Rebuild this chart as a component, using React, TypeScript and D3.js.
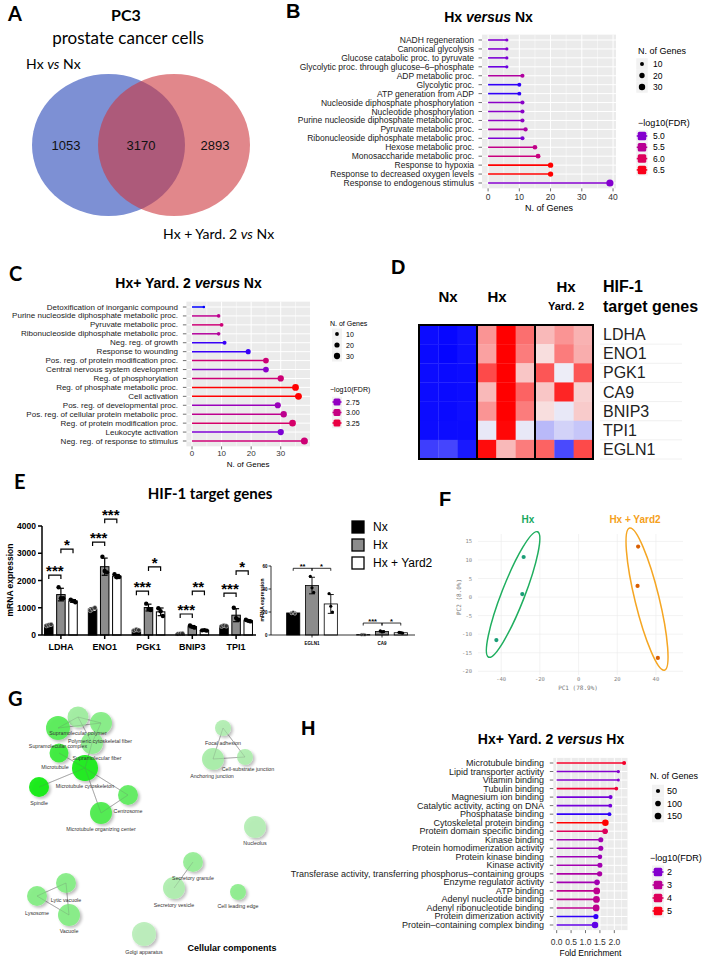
import React from "react";
import * as d3 from "d3";

const SANS = "'Liberation Sans', Arial, Helvetica, sans-serif";
const CAL = "Lato, 'Open Sans', sans-serif";
const MONO = "'DejaVu Sans Mono', monospace";

// ---------------- Panel A (Venn) ----------------
const vennTitle = "PC3";
const vennSubtitle = "prostate cancer cells";
const vennSetNames = ["Hx vs Nx", "Hx + Yard. 2 vs Nx"];
const vennRegionCounts = [1053, 3170, 2893];

// ---------------- Panel B ----------------
const bTerms = [
  "NADH regeneration", "Canonical glycolysis", "Glucose catabolic proc. to pyruvate",
  "Glycolytic proc. through glucose–6–phosphate", "ADP metabolic proc.", "Glycolytic proc.",
  "ATP generation from ADP", "Nucleoside diphosphate phosphorylation", "Nucleotide phosphorylation",
  "Purine nucleoside diphosphate metabolic proc.", "Pyruvate metabolic proc.",
  "Ribonucleoside diphosphate metabolic proc.", "Hexose metabolic proc.", "Monosaccharide metabolic proc.",
  "Response to hypoxia", "Response to decreased oxygen levels", "Response to endogenous stimulus",
];
const bGenes = [6, 6, 6, 6, 11, 10, 10, 11, 11, 11, 12, 11, 15, 16, 20, 20, 39];
const bFdr = [5.0, 5.0, 4.95, 4.85, 5.4, 4.65, 4.65, 5.05, 5.05, 5.1, 5.35, 4.95, 5.6, 5.7, 6.6, 6.6, 5.0];
const bSizeBreaks = [10, 20, 30];
const bColorBreaks = [5.0, 5.5, 6.0, 6.5];
const bTicks = [0, 10, 20, 30, 40];

// ---------------- Panel C ----------------
const cTerms = [
  "Detoxification of inorganic compound", "Purine nucleoside diphosphate metabolic proc.",
  "Pyruvate metabolic proc.", "Ribonucleoside diphosphate metabolic proc.", "Neg. reg. of growth",
  "Response to wounding", "Pos. reg. of protein modification proc.", "Central nervous system development",
  "Reg. of phosphorylation", "Reg. of phosphate metabolic proc.", "Cell activation",
  "Pos. reg. of developmental proc.", "Pos. reg. of cellular protein metabolic proc.",
  "Reg. of protein modification proc.", "Leukocyte activation", "Neg. reg. of response to stimulus",
];
const cGenes = [4, 9, 10, 9, 11, 19, 25, 25, 30, 35, 36, 29, 31, 34, 30, 38];
const cFdr = [2.52, 2.95, 3.05, 2.9, 2.55, 2.55, 3.05, 2.72, 3.05, 3.43, 3.43, 2.78, 2.95, 3.1, 2.68, 3.05];
const cSizeBreaks = [10, 20, 30];
const cColorBreaks = [2.75, 3.0, 3.25];
const cTicks = [0, 10, 20, 30];

// ---------------- Panel D ----------------
const dGenes = ["LDHA", "ENO1", "PGK1", "CA9", "BNIP3", "TPI1", "EGLN1"];
const dZ = [
  [-0.95, -0.97, -0.93, 0.4, 1.0, 0.55, 0.25, 0.4, 0.28],
  [-0.96, -0.98, -0.94, 0.35, 1.0, 0.5, 0.1, 0.5, 0.3],
  [-0.95, -0.96, -0.95, 0.7, 1.0, 0.2, 0.65, -0.04, 0.65],
  [-0.95, -0.96, -0.95, 0.25, 1.0, 0.6, 0.2, 0.85, 0.15],
  [-0.95, -0.96, -0.94, 0.4, 1.0, 0.5, 0.1, -0.06, 0.18],
  [-0.95, -0.95, -0.95, -0.06, 0.97, -0.06, -0.25, -0.15, -0.2],
  [-0.75, -0.72, -0.9, 0.95, 0.25, 0.5, 0.6, -0.7, 0.7],
];

// ---------------- Panel E ----------------
const eGenes = ["LDHA", "ENO1", "PGK1", "BNIP3", "TPI1"];
const eGroups = ["Nx", "Hx", "Hx + Yard2"];
const eNx = [[340, 370, 390], [900, 960, 1000], [170, 200, 180], [40, 50, 55], [320, 350, 330]];
const eHx = [[1750, 1350, 1350], [2870, 2350, 2300], [1150, 950, 920], [350, 300, 270], [1000, 620, 560]];
const eYard = [[1300, 1250, 1200], [2230, 2120, 2130], [980, 870, 700], [170, 180, 160], [560, 520, 500]];
const eTicks = [0, 1000, 2000, 3000, 4000];
const eSigGene = ["LDHA", "LDHA", "ENO1", "ENO1", "PGK1", "PGK1", "BNIP3", "BNIP3", "TPI1", "TPI1"];
const eSigFrom = [0, 1, 0, 1, 0, 1, 0, 1, 0, 1];
const eSigLevel = [2200, 3150, 3410, 4250, 1610, 2500, 770, 1610, 1540, 2350];
const eSigLabel = ["***", "*", "***", "***", "***", "*", "***", "**", "***", "*"];

const e2Genes = ["EGLN1", "CA9"];
const e2Nx = [[19, 20, 18.5], [0.3, 0.4, 0.2]];
const e2Hx = [[51, 41, 37], [3.6, 2.7, 3.0]];
const e2Yard = [[36, 25, 20], [2.3, 2.0, 1.6]];
const e2Ticks = [0, 20, 40, 60];
const e2SigGene = ["EGLN1", "EGLN1", "CA9", "CA9"];
const e2SigFrom = [0, 1, 0, 1];
const e2SigLevel = [58, 58, 10.4, 10.4];
const e2SigLabel = ["**", "*", "***", "*"];

// ---------------- Panel F ----------------
const fGroups = ["Hx", "Hx + Yard2"];
const fHxPC1 = [-28.4, -29.1, -42.5];
const fHxPC2 = [10.8, 0.8, -11.6];
const fYdPC1 = [30.8, 30.5, 41.0];
const fYdPC2 = [13.6, 3.0, -16.4];
const fEllHx = [-33.85, 0.7, -21.2, 17.6, 0.17];
const fEllYd = [35.4, -0.55, 26.4, 18.6, 0.165];
const fTicksX = [-40, -20, 0, 20, 40];
const fTicksY = [-20, -15, -10, -5, 0, 5, 10, 15];

// ---------------- Panel G (network layout units) ----------------
const gNames = [
  "Supramolecular polymer", "Supramolecular complex", "Polymeric cytoskeletal fiber", "Supramolecular fiber",
  "Microtubule", "Microtubule cytoskeleton", "Spindle", "Centrosome", "Microtubule organizing center",
  "Focal adhesion", "Anchoring junction", "Cell-substrate junction", "Nucleolus", "Secretory granule",
  "Secretory vesicle", "Cell leading edge", "Lytic vacuole", "Lysosome", "Vacuole", "Golgi apparatus",
];
const gX = [78, 58, 101, 92, 59, 85, 39, 128, 101, 223, 213, 245, 255, 193, 174, 238, 66, 37, 69, 144];
const gY = [717, 728, 723, 743, 753, 768, 787, 795, 813, 728, 759, 757, 827, 862, 888, 892, 883, 896, 915, 934];
const gSize = [10.5, 12, 11, 11, 9.5, 13, 10, 10, 11, 8, 11, 8, 11, 10, 11, 8, 10, 10, 11, 12];
const gShade = [0.2, 0.6, 0.35, 0.3, 0.75, 0.95, 1.0, 0.55, 0.65, 0.1, 0.15, 0.12, 0.08, 0.25, 0.12, 0.3, 0.35, 0.35, 0.35, 0.05];
const gLabelX = [78, 58, 100, 97, 55, 85, 39, 128, 101, 223, 212, 248, 255, 193, 174, 238, 66, 37, 69, 144];
const gLabelY = [733, 746, 741, 758, 767, 786, 803, 811, 829, 743, 776, 769, 843, 878, 905, 906, 900, 913, 931, 952];
const gEdges = [[0, 1], [0, 2], [1, 2], [0, 3], [2, 3], [3, 5], [4, 5], [5, 6], [5, 7], [5, 8], [7, 8], [9, 10], [9, 11], [10, 11], [13, 14], [16, 17], [16, 18], [17, 18]];

// ---------------- Panel H ----------------
const hTerms = [
  "Microtubule binding", "Lipid transporter activity", "Vitamin binding", "Tubulin binding",
  "Magnesium ion binding", "Catalytic activity, acting on DNA", "Phosphatase binding",
  "Cytoskeletal protein binding", "Protein domain specific binding", "Kinase binding",
  "Protein homodimerization activity", "Protein kinase binding", "Kinase activity",
  "Transferase activity, transferring phosphorus–containing groups", "Enzyme regulator activity",
  "ATP binding", "Adenyl nucleotide binding", "Adenyl ribonucleotide binding",
  "Protein dimerization activity", "Protein–containing complex binding",
];
const hFold = [2.34, 2.14, 2.14, 2.07, 1.87, 1.86, 1.83, 1.69, 1.68, 1.53, 1.53, 1.5, 1.5, 1.49, 1.4, 1.39, 1.38, 1.37, 1.36, 1.33];
const hGenes = [45, 25, 20, 35, 45, 40, 40, 140, 100, 80, 80, 65, 75, 85, 100, 150, 155, 150, 80, 140];
const hFdr = [4.8, 2.0, 2.0, 4.6, 1.8, 1.8, 1.3, 5.2, 4.0, 2.5, 2.5, 2.4, 2.5, 2.7, 2.5, 3.1, 3.1, 3.1, 1.3, 1.6];
const hSizeBreaks = [50, 100, 150];
const hColorBreaks = [2, 3, 4, 5];
const hTicks = [0, 0.5, 1.0, 1.5, 2.0];

// ======================================================
function Letter({ x, y, t, cal }: any) {
  return (
    <text x={x} y={y} fontSize={20} fontWeight="bold" fontFamily={cal ? CAL : SANS} fill="#000">{t}</text>
  );
}

function TitleVersus({ x, y, pre, post, fs }: any) {
  return (
    <text x={x} y={y} textAnchor="middle" dominantBaseline="central" fontSize={fs} fontWeight="bold" fontFamily={SANS} fill="#000">
      {pre}<tspan fontStyle="italic">versus</tspan>{post}
    </text>
  );
}

function Lollipop(p: any) {
  const maxV = d3.max(p.values as number[]) as number;
  const x = d3.scaleLinear().domain([-0.05 * maxV, 1.05 * maxV]).range([p.left, p.right]);
  const y = d3.scalePoint<string>().domain(p.terms).range([p.rowTop, p.rowBottom]);
  const step = y.step();
  const top = p.rowTop - 0.6 * step;
  const bottom = p.rowBottom + 0.6 * step;
  const color = d3.scaleLinear<string>().domain(p.colorDomain).range(["#0000ff", "#ff0000"]).interpolate(d3.interpolateLab).clamp(true);
  const r = d3.scaleSqrt().domain(p.sizeDomain).range(p.sizeRange).clamp(true);
  const minor = p.ticks.slice(0, -1).map((t: number, i: number) => (t + p.ticks[i + 1]) / 2);
  const last = p.ticks[p.ticks.length - 1];
  const d = p.ticks[1] - p.ticks[0];
  if (last + d / 2 < 1.05 * maxV) minor.push(last + d / 2);
  const L = p.legend;
  return (
    <g fontFamily={SANS}>
      <rect x={p.left} y={top} width={p.right - p.left} height={bottom - top} fill="#ebebeb" />
      {minor.map((v: number) => (
        <line key={"m" + v} x1={x(v)} x2={x(v)} y1={top} y2={bottom} stroke="#fff" strokeWidth={0.5} />
      ))}
      {p.ticks.map((v: number) => (
        <line key={"g" + v} x1={x(v)} x2={x(v)} y1={top} y2={bottom} stroke="#fff" strokeWidth={1} />
      ))}
      {p.terms.map((t: string) => (
        <line key={"h" + t} x1={p.left} x2={p.right} y1={y(t)} y2={y(t)} stroke="#fff" strokeWidth={1} />
      ))}
      {p.terms.map((t: string, i: number) => (
        <g key={"r" + t}>
          <line x1={x(0)} x2={x(p.values[i])} y1={y(t)} y2={y(t)} stroke={color(p.fdr[i])} strokeWidth={p.lw} />
          <circle cx={x(p.values[i])} cy={y(t)} r={r(p.genes[i])} fill={color(p.fdr[i])} />
          <text x={p.labelRight} y={y(t)} textAnchor="end" dominantBaseline="central" fontSize={p.labelFont} fill="#1a1a1a">{t}</text>
          <line x1={p.left - 3.5} x2={p.left} y1={y(t)} y2={y(t)} stroke="#333" strokeWidth={0.7} />
        </g>
      ))}
      {p.ticks.map((v: number) => (
        <g key={"xt" + v}>
          <line x1={x(v)} x2={x(v)} y1={bottom} y2={bottom + 3} stroke="#333" strokeWidth={0.7} />
          <text x={x(v)} y={p.tickLabelY} textAnchor="middle" dominantBaseline="central" fontSize={p.tickFont} fill="#333">{p.fmt(v)}</text>
        </g>
      ))}
      <text x={(p.left + p.right) / 2} y={p.xTitleY} textAnchor="middle" dominantBaseline="central" fontSize={p.xTitleFont} fill="#000">{p.xTitle}</text>
      {/* legend */}
      <text x={L.x} y={L.sizeTitleY} dominantBaseline="central" fontSize={L.titleFont} fill="#000">N. of Genes</text>
      {p.sizeBreaks.map((v: number, i: number) => {
        const cy = L.sizeY0 + i * L.sizeStep;
        return (
          <g key={"ls" + v}>
            <rect x={L.keyX - L.keyBox / 2} y={cy - L.sizeStep / 2} width={L.keyBox} height={L.sizeStep} fill="#f2f2f2" />
            <circle cx={L.keyX} cy={cy} r={r(v)} fill="#000" />
            <text x={L.labelX} y={cy} dominantBaseline="central" fontSize={L.labelFont} fill="#000">{v}</text>
          </g>
        );
      })}
      <text x={L.x} y={L.colorTitleY} dominantBaseline="central" fontSize={L.titleFont} fill="#000">−log10(FDR)</text>
      {p.colorBreaks.map((v: number, i: number) => {
        const cy = L.colorY0 + i * L.colorStep;
        return (
          <g key={"lc" + v}>
            <rect x={L.keyX - L.keyBox / 2} y={cy - L.colorStep / 2} width={L.keyBox} height={L.colorStep} fill="#f2f2f2" />
            <line x1={L.keyX - L.keyBox / 2 + 0.5} x2={L.keyX + L.keyBox / 2 - 0.5} y1={cy} y2={cy} stroke={color(v)} strokeWidth={1.6} />
            <rect x={L.keyX - L.sq / 2} y={cy - L.sq / 2} width={L.sq} height={L.sq} rx={1.5} fill={color(v)} />
            <text x={L.labelX} y={cy} dominantBaseline="central" fontSize={L.labelFont} fill="#000">{L.fmt(v)}</text>
          </g>
        );
      })}
    </g>
  );
}

function PanelA() {
  const names = vennSetNames.map((s) => s.split(" vs "));
  return (
    <g>
      <Letter x={8} y={21} t="A" cal />
      <text x={126} y={14} textAnchor="middle" dominantBaseline="central" fontFamily={CAL} fontWeight="bold" fontSize={16}>{vennTitle}</text>
      <text x={128} y={37} textAnchor="middle" dominantBaseline="central" fontFamily={CAL} fontSize={17}>{vennSubtitle}</text>
      <text x={26} y={63} dominantBaseline="central" fontFamily={CAL} fontSize={14}>
        {names[0][0]} <tspan fontStyle="italic">vs</tspan> {names[0][1]}
      </text>
      <ellipse cx={108.5} cy={145} rx={76.5} ry={71} fill="#7d90d4" />
      <ellipse cx={174} cy={145} rx={76} ry={71} fill="rgb(205,55,62)" fillOpacity={0.6} />
      {vennRegionCounts.map((c, i) => (
        <text key={c} x={[66, 141, 215][i]} y={145} textAnchor="middle" dominantBaseline="central" fontFamily={SANS} fontSize={13} fill="#111">{c}</text>
      ))}
      <text x={163} y={233} dominantBaseline="central" fontFamily={CAL} fontSize={14}>
        {names[1][0]} <tspan fontStyle="italic">vs</tspan> {names[1][1]}
      </text>
    </g>
  );
}

function PanelB() {
  return (
    <g>
      <Letter x={286} y={18} t="B" />
      <TitleVersus x={488.5} y={17} pre="Hx " post=" Nx" fs={14} />
      <Lollipop
        terms={bTerms} values={bGenes} genes={bGenes} fdr={bFdr}
        rowTop={40} rowBottom={183} left={482} right={616} labelRight={474} labelFont={8.5}
        ticks={bTicks} fmt={(v: number) => String(v)} tickLabelY={197} tickFont={8.5}
        xTitle="N. of Genes" xTitleY={208} xTitleFont={9} lw={1.6}
        colorDomain={[4.6, 6.6]} sizeDomain={[6, 39]} sizeRange={[1.6, 3.6]}
        sizeBreaks={bSizeBreaks} colorBreaks={bColorBreaks}
        legend={{ x: 638, keyX: 642, labelX: 653, keyBox: 11.5, sq: 8.5, titleFont: 9, labelFont: 8.5,
          sizeTitleY: 51, sizeY0: 64, sizeStep: 11.5, colorTitleY: 123, colorY0: 136, colorStep: 11.3,
          fmt: (v: number) => v.toFixed(1) }}
      />
    </g>
  );
}

function PanelC() {
  return (
    <g>
      <Letter x={9} y={281} t="C" cal />
      <TitleVersus x={188.5} y={283} pre="Hx+ Yard. 2 " post=" Nx" fs={14} />
      <Lollipop
        terms={cTerms} values={cGenes} genes={cGenes} fdr={cFdr}
        rowTop={307} rowBottom={441} left={186.4} right={310} labelRight={178} labelFont={8}
        ticks={cTicks} fmt={(v: number) => String(v)} tickLabelY={453} tickFont={8}
        xTitle="N. of Genes" xTitleY={464} xTitleFont={8} lw={1.5}
        colorDomain={[2.52, 3.43]} sizeDomain={[4, 38]} sizeRange={[1.3, 3.5]}
        sizeBreaks={cSizeBreaks} colorBreaks={cColorBreaks}
        legend={{ x: 330, keyX: 337, labelX: 346, keyBox: 10, sq: 7, titleFont: 7, labelFont: 7,
          sizeTitleY: 323, sizeY0: 334, sizeStep: 11, colorTitleY: 389, colorY0: 402, colorStep: 10.5,
          fmt: (v: number) => v.toFixed(2) }}
      />
    </g>
  );
}

function PanelD() {
  const x = d3.scaleBand<number>().domain(d3.range(9)).range([419, 593]);
  const y = d3.scaleBand<string>().domain(dGenes).range([325, 459]);
  const col = d3.scaleLinear<string>().domain([-1, 0, 1]).range(["#0000ff", "#f7f7f7", "#ff0000"]).clamp(true);
  const bw = x.bandwidth();
  return (
    <g fontFamily={SANS}>
      <Letter x={391} y={274} t="D" />
      <text x={448} y={296} textAnchor="middle" dominantBaseline="central" fontSize={15} fontWeight="bold">Nx</text>
      <text x={497} y={296} textAnchor="middle" dominantBaseline="central" fontSize={15} fontWeight="bold">Hx</text>
      <text x={566} y={286} textAnchor="middle" dominantBaseline="central" fontSize={15} fontWeight="bold">Hx</text>
      <text x={566} y={306} textAnchor="middle" dominantBaseline="central" fontSize={11} fontWeight="bold">Yard. 2</text>
      <text x={603} y={286} dominantBaseline="central" fontSize={16} fontWeight="bold">HIF-1</text>
      <text x={603} y={306} dominantBaseline="central" fontSize={16} fontWeight="bold">target genes</text>
      {dGenes.map((g, gi) =>
        dZ[gi].map((v, ci) => (
          <rect key={g + ci} x={x(ci)} y={y(g)} width={bw + 0.3} height={y.bandwidth() + 0.3} fill={col(v)} />
        ))
      )}
      {[0, 1, 2].map((k) => (
        <rect key={"b" + k} x={x(k * 3)} y={325} width={bw * 3} height={134} fill="none" stroke="#000" strokeWidth={2} />
      ))}
      {dGenes.map((g) => (
        <g key={"l" + g}>
          <text x={603} y={(y(g) as number) + y.bandwidth() / 2} dominantBaseline="central" fontSize={16} fill="#222">{g}</text>
          <line x1={600} x2={682} y1={(y(g) as number) + y.bandwidth()} y2={(y(g) as number) + y.bandwidth()} stroke="#ececec" strokeWidth={0.8} />
        </g>
      ))}
    </g>
  );
}

function BarGroup({ genes, reps, y, xg, xi, dotR, barStroke, errStroke, capW }: any) {
  const fills = ["#000", "#8c8c8c", "#fff"];
  const offs = [-2.3, 0, 2.3];
  return (
    <g>
      {genes.map((g: string, gi: number) =>
        eGroups.map((grp, k) => {
          const vals = reps[k][gi] as number[];
          const m = d3.mean(vals) as number;
          const sd = d3.deviation(vals) as number;
          const cx = (xg(g) as number) + xg.bandwidth() / 2 + (xi(grp) as number) + xi.bandwidth() / 2;
          const bw = xi.bandwidth();
          return (
            <g key={g + grp}>
              <rect x={cx - bw / 2} y={y(m)} width={bw} height={y(0) - y(m)} fill={fills[k]} stroke="#000" strokeWidth={barStroke} />
              <line x1={cx} x2={cx} y1={y(m - sd)} y2={y(m + sd)} stroke="#000" strokeWidth={errStroke} />
              <line x1={cx - capW} x2={cx + capW} y1={y(m + sd)} y2={y(m + sd)} stroke="#000" strokeWidth={errStroke} />
              <line x1={cx - capW} x2={cx + capW} y1={y(m - sd)} y2={y(m - sd)} stroke={k === 0 ? "#fff" : "#000"} strokeWidth={errStroke} />
              {vals.map((v, j) => (
                <circle key={j} cx={cx + offs[j] * (dotR / 2.2)} cy={y(v)} r={dotR} fill={k === 0 ? "#333" : "#000"} stroke={k === 0 ? "#ddd" : "none"} strokeWidth={0.5} />
              ))}
            </g>
          );
        })
      )}
    </g>
  );
}

function Bracket({ x1, x2, y, label, fs, tick, sw }: any) {
  return (
    <g>
      <path d={`M${x1},${y + tick}V${y}H${x2}V${y + tick}`} fill="none" stroke="#000" strokeWidth={sw} />
      <text x={(x1 + x2) / 2} y={y + fs * 0.08} textAnchor="middle" fontSize={fs} fontWeight="bold" fontFamily={SANS}>{label}</text>
    </g>
  );
}

function PanelE() {
  const y = d3.scaleLinear().domain([0, 4000]).range([635, 526]);
  const xg = d3.scaleBand<string>().domain(eGenes).range([39, 258]);
  const xi = d3.scaleBand<string>().domain(eGroups).range([-20, 20]).padding(0.3);
  const center = (g: string, k: number) =>
    (xg(g) as number) + xg.bandwidth() / 2 + (xi(eGroups[k]) as number) + xi.bandwidth() / 2;

  const y2 = d3.scaleLinear().domain([0, 60]).range([635, 566]);
  const xg2 = d3.scaleBand<string>().domain(e2Genes).range([277, 417]);
  const xi2 = d3.scaleBand<string>().domain(eGroups).range([-31, 31]).padding(0.3);
  const center2 = (g: string, k: number) =>
    (xg2(g) as number) + xg2.bandwidth() / 2 + (xi2(eGroups[k]) as number) + xi2.bandwidth() / 2;

  const legFills = ["#000", "#8c8c8c", "#fff"];
  return (
    <g fontFamily={SANS}>
      <Letter x={14} y={489} t="E" cal />
      <text x={210} y={493} textAnchor="middle" dominantBaseline="central" fontFamily={CAL} fontWeight="bold" fontSize={15}>HIF-1 target genes</text>
      <BarGroup genes={eGenes} reps={[eNx, eHx, eYard]} y={y} xg={xg} xi={xi} dotR={2.2} barStroke={1} errStroke={1.2} capW={3} />
      <line x1={42} x2={42} y1={635} y2={526} stroke="#000" strokeWidth={1.5} />
      <line x1={42} x2={256} y1={635} y2={635} stroke="#000" strokeWidth={1.5} />
      {eTicks.map((t) => (
        <g key={"et" + t}>
          <line x1={38} x2={42} y1={y(t)} y2={y(t)} stroke="#000" strokeWidth={1.5} />
          <text x={36} y={y(t)} textAnchor="end" dominantBaseline="central" fontSize={8.5} fontWeight="bold">{t}</text>
        </g>
      ))}
      {eGenes.map((g) => (
        <g key={"eg" + g}>
          <line x1={center(g, 1)} x2={center(g, 1)} y1={635} y2={639} stroke="#000" strokeWidth={1.5} />
          <text x={center(g, 1)} y={647} textAnchor="middle" dominantBaseline="central" fontSize={9} fontWeight="bold">{g}</text>
        </g>
      ))}
      <text transform="translate(10,580) rotate(-90)" textAnchor="middle" dominantBaseline="central" fontSize={8.5} fontWeight="bold">mRNA expression</text>
      {eSigGene.map((g, i) => (
        <Bracket key={"es" + i} x1={center(g, eSigFrom[i])} x2={center(g, eSigFrom[i] + 1)} y={y(eSigLevel[i])} label={eSigLabel[i]} fs={15} tick={4} sw={1.2} />
      ))}
      <BarGroup genes={e2Genes} reps={[e2Nx, e2Hx, e2Yard]} y={y2} xg={xg2} xi={xi2} dotR={1.6} barStroke={0.8} errStroke={0.9} capW={3} />
      <line x1={271} x2={271} y1={635} y2={566} stroke="#000" strokeWidth={0.8} />
      <line x1={271} x2={415} y1={635} y2={635} stroke="#000" strokeWidth={0.8} />
      {e2Ticks.map((t) => (
        <g key={"e2t" + t}>
          <line x1={268.5} x2={271} y1={y2(t)} y2={y2(t)} stroke="#000" strokeWidth={0.8} />
          <text x={267.5} y={y2(t)} textAnchor="end" dominantBaseline="central" fontSize={4.5} fontWeight="bold">{t}</text>
        </g>
      ))}
      {e2Genes.map((g) => (
        <g key={"e2g" + g}>
          <line x1={center2(g, 1)} x2={center2(g, 1)} y1={635} y2={637.5} stroke="#000" strokeWidth={0.8} />
          <text x={center2(g, 1)} y={643} textAnchor="middle" dominantBaseline="central" fontSize={4.5} fontWeight="bold">{g}</text>
        </g>
      ))}
      <text transform="translate(262,600) rotate(-90)" textAnchor="middle" dominantBaseline="central" fontSize={5} fontWeight="bold">mRNA expression</text>
      {e2SigGene.map((g, i) => (
        <Bracket key={"e2s" + i} x1={center2(g, e2SigFrom[i])} x2={center2(g, e2SigFrom[i] + 1)} y={y2(e2SigLevel[i])} label={e2SigLabel[i]} fs={7.5} tick={2.5} sw={0.8} />
      ))}
      {eGroups.map((g, i) => (
        <g key={"el" + g}>
          <rect x={352} y={521 + i * 18} width={12} height={12} fill={legFills[i]} stroke="#000" strokeWidth={1.3} />
          <text x={373} y={527 + i * 18} dominantBaseline="central" fontSize={12}>{g}</text>
        </g>
      ))}
    </g>
  );
}

function Ellipse({ e, x, y, stroke }: any) {
  const cx = x(e[0]), cy = y(e[1]), tx = x(e[2]), ty = y(e[3]);
  const dx = tx - cx, dy = ty - cy;
  const a = Math.hypot(dx, dy);
  const ang = (Math.atan2(dy, dx) * 180) / Math.PI;
  return <ellipse cx={cx} cy={cy} rx={a} ry={a * e[4]} transform={`rotate(${ang},${cx},${cy})`} fill="none" stroke={stroke} strokeWidth={1.5} />;
}

function PanelF() {
  const x = d3.scaleLinear().domain([-52, 54]).range([478, 683]);
  const y = d3.scaleLinear().domain([-21, 17]).range([675, 534]);
  return (
    <g fontFamily={SANS}>
      <Letter x={439} y={506} t="F" />
      {fTicksX.map((t) => (
        <line key={"fx" + t} x1={x(t)} x2={x(t)} y1={534} y2={675} stroke="#ebebeb" strokeWidth={0.6} />
      ))}
      {fTicksY.map((t) => (
        <line key={"fy" + t} x1={478} x2={683} y1={y(t)} y2={y(t)} stroke="#ebebeb" strokeWidth={0.6} />
      ))}
      {fTicksX.map((t) => (
        <text key={"fxl" + t} x={x(t)} y={679} textAnchor="middle" dominantBaseline="central" fontSize={5.5} fontFamily={MONO} fill="#888">{t}</text>
      ))}
      {fTicksY.map((t) => (
        <text key={"fyl" + t} x={472} y={y(t)} textAnchor="end" dominantBaseline="central" fontSize={5.5} fontFamily={MONO} fill="#888">{t}</text>
      ))}
      <text x={578} y={687} textAnchor="middle" dominantBaseline="central" fontSize={6} fontFamily={MONO} fill="#777">PC1 (78.9%)</text>
      <text transform="translate(458,597) rotate(-90)" textAnchor="middle" dominantBaseline="central" fontSize={6} fontFamily={MONO} fill="#777">PC2 (8.0%)</text>
      <Ellipse e={fEllHx} x={x} y={y} stroke="#1fae5f" />
      <Ellipse e={fEllYd} x={x} y={y} stroke="#f5a623" />
      {fHxPC1.map((v, i) => (
        <circle key={"fh" + i} cx={x(v)} cy={y(fHxPC2[i])} r={2.1} fill="#1b9e77" />
      ))}
      {fYdPC1.map((v, i) => (
        <circle key={"fyd" + i} cx={x(v)} cy={y(fYdPC2[i])} r={2.1} fill="#d95f02" />
      ))}
      <text x={528} y={519} textAnchor="middle" dominantBaseline="central" fontSize={10} fontWeight="bold" fill="#1aa860">{fGroups[0]}</text>
      <text x={635} y={519} textAnchor="middle" dominantBaseline="central" fontSize={10} fontWeight="bold" fill="#f5a020">{fGroups[1]}</text>
    </g>
  );
}

function PanelG() {
  const sx = d3.scaleLinear().domain([0, 360]).range([0, 360]);
  const sy = d3.scaleLinear().domain([600, 957]).range([600, 957]);
  const shade = d3.scaleLinear<string>().domain([0, 1]).range(["#c2eec2", "#0aea0a"]);
  return (
    <g fontFamily={SANS}>
      <defs>
        <filter id="nodeShadow" x="-60%" y="-60%" width="220%" height="220%">
          <feGaussianBlur in="SourceAlpha" stdDeviation="1.6" />
          <feOffset dx="1.5" dy="1.8" result="ob" />
          <feComponentTransfer result="sh"><feFuncA type="linear" slope="0.28" /></feComponentTransfer>
          <feGaussianBlur in="SourceGraphic" stdDeviation="0.5" result="sg" />
          <feMerge><feMergeNode in="sh" /><feMergeNode in="sg" /></feMerge>
        </filter>
      </defs>
      <Letter x={8} y={706} t="G" cal />
      {gEdges.map(([a, b], i) => (
        <line key={"ge" + i} x1={sx(gX[a])} y1={sy(gY[a])} x2={sx(gX[b])} y2={sy(gY[b])} stroke="#8a8a8a" strokeWidth={0.6} />
      ))}
      {gNames.map((n, i) => (
        <circle key={"gn" + n} cx={sx(gX[i])} cy={sy(gY[i])} r={gSize[i]} fill={shade(gShade[i])} fillOpacity={0.92} filter="url(#nodeShadow)" />
      ))}
      {gEdges.map(([a, b], i) => (
        <line key={"ge2" + i} x1={sx(gX[a])} y1={sy(gY[a])} x2={sx(gX[b])} y2={sy(gY[b])} stroke="#777" strokeWidth={0.4} strokeOpacity={0.6} />
      ))}
      {gNames.map((n, i) => (
        <text key={"gl" + n} x={sx(gLabelX[i])} y={sy(gLabelY[i])} textAnchor="middle" dominantBaseline="central" fontSize={5.3} fill="#333">{n}</text>
      ))}
      <text x={232} y={948} textAnchor="middle" dominantBaseline="central" fontSize={9} fontWeight="bold">Cellular components</text>
    </g>
  );
}

function PanelH() {
  return (
    <g>
      <Letter x={301} y={735} t="H" />
      <TitleVersus x={551} y={739} pre="Hx+ Yard. 2 " post=" Hx" fs={14} />
      <Lollipop
        terms={hTerms} values={hFold} genes={hGenes} fdr={hFdr}
        rowTop={763} rowBottom={925} left={553.3} right={627.5} labelRight={544} labelFont={9}
        ticks={hTicks} fmt={(v: number) => v.toFixed(1)} tickLabelY={942} tickFont={8.5}
        xTitle="Fold Enrichment" xTitleY={953} xTitleFont={8.5} lw={1.6}
        colorDomain={[1.2, 5.2]} sizeDomain={[20, 155]} sizeRange={[1.5, 3.4]}
        sizeBreaks={hSizeBreaks} colorBreaks={hColorBreaks}
        legend={{ x: 650, keyX: 658, labelX: 667, keyBox: 12, sq: 8.5, titleFont: 9, labelFont: 9,
          sizeTitleY: 776, sizeY0: 791, sizeStep: 12.5, colorTitleY: 858, colorY0: 872, colorStep: 13,
          fmt: (v: number) => String(v) }}
      />
    </g>
  );
}

export default function App() {
  return (
    <svg width={709} height={957} viewBox="0 0 709 957" style={{ position: "absolute", left: 0, top: 0, background: "#fff" }}>
      <rect width={709} height={957} fill="#fff" />
      <PanelG />
      <PanelA />
      <PanelB />
      <PanelC />
      <PanelD />
      <PanelE />
      <PanelF />
      <PanelH />
    </svg>
  );
}
